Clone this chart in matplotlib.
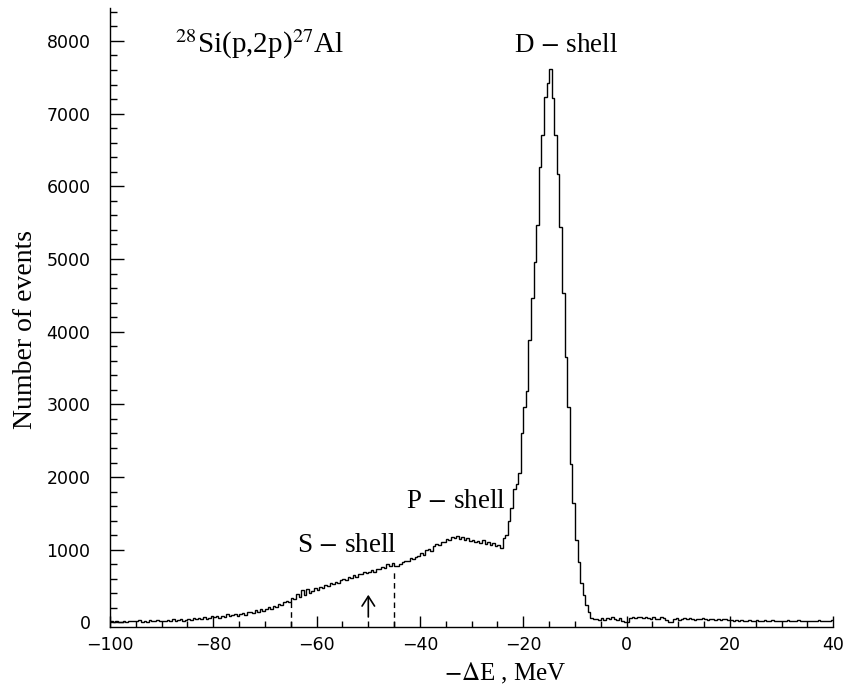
import numpy as np
import matplotlib.pyplot as plt

plt.rcParams['mathtext.fontset'] = 'stix'
plt.rcParams['font.family'] = ['Liberation Serif', 'DejaVu Serif']

# -dE bins, 0.5 MeV wide, from -100 to 40 MeV
e_lo, e_hi, e_step = -100.0, 40.0, 0.5

# events per bin, 10 bins (5 MeV) per row
counts_tail = [
    15, 10, 20, 8, 12, 18, 10, 25, 15, 20,          # -100 .. -95
    18, 30, 12, 22, 10, 28, 15, 20, 30, 18,         # -95 .. -90
    25, 15, 35, 20, 40, 22, 30, 45, 25, 38,         # -90 .. -85
    50, 35, 55, 40, 60, 45, 75, 50, 65, 85,         # -85 .. -80
    70, 90, 65, 95, 80, 110, 85, 100, 120, 95,      # -80 .. -75
    115, 130, 105, 140, 150, 125, 165, 145, 180, 160,   # -75 .. -70
    190, 210, 185, 230, 215, 250, 240, 280, 300, 285,   # -70 .. -65
    340, 320, 390, 345, 440, 380, 455, 400, 430, 470,   # -65 .. -60
    445, 490, 470, 515, 500, 540, 525, 560, 545, 580,   # -60 .. -55
    600, 585, 620, 610, 650, 630, 670, 660, 690, 680,   # -55 .. -50
    700, 720, 690, 740, 730, 760, 745, 800, 770, 820,   # -50 .. -45
    780, 770, 800, 830, 850, 840, 880, 870, 900, 920,   # -45 .. -40
    950, 930, 990, 1010, 980, 1050, 1080, 1060, 1110, 1100,  # -40 .. -35
    1150, 1130, 1180, 1160, 1190, 1150, 1170, 1130, 1160, 1120,  # -35 .. -30
    1140, 1100, 1120, 1090, 1130, 1080, 1110, 1060, 1090, 1050,  # -30 .. -25
    1060, 1030,                                      # -25 .. -24
]
counts_peak = [
    1160, 1200, 1400, 1570, 1840, 1910, 2050, 2600, 2960, 3190,  # -24 .. -19
    3880, 4460, 4960, 5470, 6270, 6700, 7230, 7420, 7620, 7210,  # -19 .. -14
    6700, 6170, 5440, 4530, 3650, 2960, 2180, 1640, 1130, 830,   # -14 .. -9
    540, 375, 240, 140, 60, 50,                                  # -9 .. -6
]
counts_high = [
    45, 30,                                  # -6 .. -5
    55, 35, 60, 40, 70, 45, 30, 55, 15, 5,   # -5 .. 0
    10, 60, 75, 65, 80, 70, 55, 75, 60, 45,  # 0 .. 5
    70, 50, 40, 80, 55, 30, 5, 10, 45, 55,   # 5 .. 10
    35, 50, 60, 40, 55, 45, 30, 50, 40, 55,  # 10 .. 15
    45, 35, 50, 40, 30, 45, 35, 40, 50, 30,  # 15 .. 20
    30, 25, 35, 20, 30, 25, 15, 35, 20, 25,  # 20 .. 25
    30, 20, 25, 35, 15, 25, 30, 20, 25, 15,  # 25 .. 30
    25, 20, 30, 15, 20, 25, 30, 20, 15, 25,  # 30 .. 35
    20, 25, 15, 20, 30, 20, 25, 15, 20, 30,  # 35 .. 40
]
counts = np.array(counts_tail + counts_peak + counts_high)
edges = np.linspace(e_lo, e_hi, len(counts) + 1)

# window marks under the S-shell bump
cut_e = [-65, -45]
cut_top = [280, 720]
arrow_e = -50
arrow_span = (75, 380)

fig = plt.figure(figsize=(8.46, 6.88), dpi=100)
ax = fig.add_axes([0.130, 0.089, 0.855, 0.899])

ax.stairs(counts, edges, baseline=None, color='black', lw=1.0)
ax.set_xlim(e_lo, e_hi)
ax.set_ylim(-60, 8450)

ax.vlines(cut_e, -60, cut_top, colors='black', lw=1.0, linestyles=(0, (4, 3)))
ax.annotate('', xy=(arrow_e, arrow_span[1]), xytext=(arrow_e, arrow_span[0]),
            arrowprops=dict(arrowstyle='->,head_length=0.7,head_width=0.45', lw=1.2, color='black',
                            shrinkA=0, shrinkB=0))

for s in ['top', 'right']:
    ax.spines[s].set_visible(False)
for s in ['left', 'bottom']:
    ax.spines[s].set_linewidth(1.0)

ax.set_xticks(np.arange(-100, 41, 20))
ax.set_xticks(np.arange(-100, 41, 5), minor=True)
ax.set_yticks(np.arange(0, 8001, 1000))
ax.set_yticks(np.arange(0, 8450, 200), minor=True)
ax.tick_params(axis='x', which='major', direction='in', length=8, width=1, pad=7)
ax.tick_params(axis='x', which='minor', direction='in', length=4, width=1)
ax.tick_params(axis='y', which='major', direction='in', length=10, width=1, pad=14)
ax.tick_params(axis='y', which='minor', direction='in', length=5, width=1)
for lab in ax.get_xticklabels() + ax.get_yticklabels():
    lab.set_family('DejaVu Sans')
    lab.set_fontsize(12.5)

ax.set_xlabel(r'$-\Delta$E , MeV', fontsize=18)
ax.xaxis.set_label_coords(0.546, -0.055)
ax.set_ylabel('Number of events', fontsize=20)
ax.yaxis.set_label_coords(-0.100, 0.48)

ax.text(-87.4, 7845, r'$^{28}$Si(p,2p)$^{27}$Al', fontsize=21, ha='left', va='baseline')
ax.text(-11.7, 7855, 'D $-$ shell', fontsize=19.5, ha='center', va='baseline')
ax.text(-33.0, 1572, 'P $-$ shell', fontsize=19.5, ha='center', va='baseline')
ax.text(-54.1, 966, 'S $-$ shell', fontsize=19.5, ha='center', va='baseline')

fig.savefig('out.png', dpi=100)
